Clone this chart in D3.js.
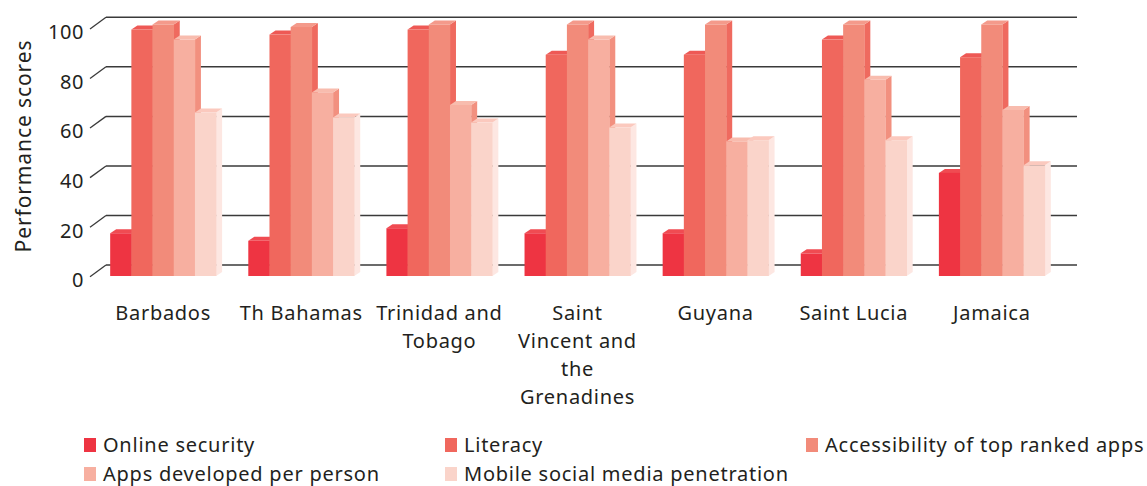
<!DOCTYPE html>
<html>
<head>
<meta charset="utf-8">
<script src="https://cdn.jsdelivr.net/npm/d3@7"></script>
<style>
  html, body { margin: 0; padding: 0; background: #fff; }
  svg { display: block; font-family: "Noto Sans", sans-serif; }
</style>
</head>
<body>
<svg id="chart" width="1147" height="486"></svg>
<script>
// Country groups along the x axis (label lines as they wrap under each group)
const categories = ["Barbados", "Th Bahamas", "Trinidad and Tobago", "Saint Vincent and the Grenadines", "Guyana", "Saint Lucia", "Jamaica"];
const categoryLines = [["Barbados"], ["Th Bahamas"], ["Trinidad and", "Tobago"], ["Saint", "Vincent and", "the", "Grenadines"], ["Guyana"], ["Saint Lucia"], ["Jamaica"]];

// Series, one value per country
const seriesNames = ["Online security", "Literacy", "Accessibility of top ranked apps", "Apps developed per person", "Mobile social media penetration"];
const onlineSecurity   = [17, 14, 19, 17, 17, 9, 41];
const literacy         = [98, 96, 98, 88, 88, 94, 87];
const accessibility    = [100, 99, 100, 100, 100, 100, 100];
const appsDeveloped    = [94, 73, 68, 94, 53.5, 78, 66];
const mobileSocial     = [65, 63, 61, 59, 54, 54, 44];
const seriesValues = [onlineSecurity, literacy, accessibility, appsDeveloped, mobileSocial];

const yTicks = [0, 20, 40, 60, 80, 100];

// Face colours: front, top and side of each 3D column
const frontColors = ["#ee3442", "#f0675d", "#f28b7a", "#f7afa0", "#fad4ca"];
const topColors   = ["#f04b52", "#ee5955", "#f49a8b", "#f8bcae", "#fbc9be"];
const sideColors  = ["#d92c38", "#e85750", "#ef6a5f", "#f2907f", "#fde7e2"];

const svg = d3.select("#chart");

// Back wall (gridlines), front plane (tick labels) and column faces
const yBack  = d3.scaleLinear().domain([0, 100]).range([265, 17.3]);
const yFront = d3.scaleLinear().domain([0, 100]).range([276.7, 29]);
const yBar   = d3.scaleLinear().domain([0, 100]).range([276, 24.5]);

const x = d3.scaleBand().domain(categories).range([78, 1077]).paddingInner(0.233).paddingOuter(0.233);
const xs = d3.scaleBand().domain(seriesNames).range([0, x.bandwidth()]);

const depthX = 6, depthY = 4;

// Gridlines on the back wall with slanted ticks to the front plane
const grid = svg.append("g");
yTicks.forEach(t => {
  grid.append("line")
    .attr("x1", 106).attr("x2", 1077)
    .attr("y1", yBack(t)).attr("y2", yBack(t))
    .attr("stroke", "#3a3a3a").attr("stroke-width", 1.5);
  grid.append("line")
    .attr("x1", 90).attr("y1", yFront(t))
    .attr("x2", 106).attr("y2", yBack(t))
    .attr("stroke", "#3a3a3a").attr("stroke-width", 1.3);
  grid.append("text")
    .attr("x", 84).attr("y", yFront(t) + 5)
    .attr("text-anchor", "end").attr("dominant-baseline", "middle")
    .attr("font-size", 20).attr("letter-spacing", 0.6).attr("fill", "#231f20")
    .text(t);
});

// 3D columns, drawn left to right so each column hides its neighbour's side face
const bars = svg.append("g");
categories.forEach((c, i) => {
  seriesNames.forEach((s, j) => {
    const v = seriesValues[j][i];
    const x0 = x(c) + xs(s);
    const w = xs.bandwidth();
    const yt = yBar(v), yb = yBar(0);
    const g = bars.append("g");
    g.append("polygon")
      .attr("points", [[x0 + w, yt], [x0 + w + depthX, yt - depthY], [x0 + w + depthX, yb - depthY], [x0 + w, yb]].join(" "))
      .attr("fill", sideColors[j]);
    g.append("polygon")
      .attr("points", [[x0, yt], [x0 + depthX, yt - depthY], [x0 + w + depthX, yt - depthY], [x0 + w, yt]].join(" "))
      .attr("fill", topColors[j]);
    g.append("rect")
      .attr("x", x0).attr("y", yt)
      .attr("width", w + 0.3).attr("height", yb - yt)
      .attr("fill", frontColors[j]);
  });
});

// Category labels, centred under each group
const labels = svg.append("g");
categories.forEach((c, i) => {
  const cx = x(c) + x.bandwidth() / 2;
  const t = labels.append("text")
    .attr("text-anchor", "middle")
    .attr("font-size", 20).attr("letter-spacing", 0.7).attr("fill", "#231f20");
  categoryLines[i].forEach((line, k) => {
    t.append("tspan").attr("x", cx).attr("y", 320 + k * 28).text(line);
  });
});

// Axis title
svg.append("text")
  .attr("transform", "translate(31,146) rotate(-90)")
  .attr("text-anchor", "middle")
  .attr("font-size", 21).attr("letter-spacing", 0.9).attr("fill", "#231f20")
  .text("Performance scores");

// Legend
const legendPos = [[84, 445], [445, 445], [806, 445], [84, 474], [445, 474]];
const legend = svg.append("g");
seriesNames.forEach((s, j) => {
  const [lx, ly] = legendPos[j];
  legend.append("rect")
    .attr("x", lx).attr("y", ly - 7)
    .attr("width", 12).attr("height", 14)
    .attr("fill", frontColors[j]);
  legend.append("text")
    .attr("x", lx + 19).attr("y", ly + 7)
    .attr("font-size", 20).attr("letter-spacing", 0.75).attr("fill", "#231f20")
    .text(s);
});
</script>
</body>
</html>
